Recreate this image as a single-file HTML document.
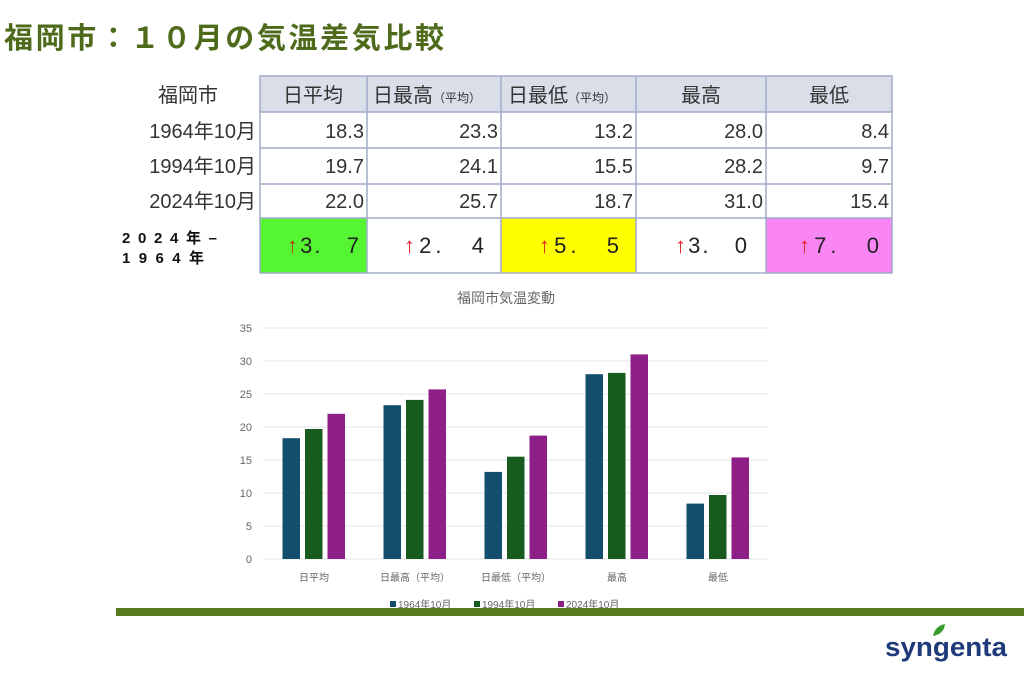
<!DOCTYPE html>
<html><head><meta charset="utf-8"><style>
body{margin:0;background:#fff;}
svg{display:block;font-family:"Liberation Sans","Noto Sans CJK JP",sans-serif;}
</style></head><body>
<svg width="1024" height="674" viewBox="0 0 1024 674" xmlns="http://www.w3.org/2000/svg">
<text x="4" y="48" font-size="29" font-weight="bold" fill="#4e6b1c" textLength="440" lengthAdjust="spacing">福岡市：１０月の気温差気比較</text>
<!-- table -->
<rect x="260" y="76" width="632" height="36" fill="#d9dee9"/>
<rect x="260" y="218" width="107" height="55" fill="#55f531"/>
<rect x="501" y="218" width="135" height="55" fill="#ffff00"/>
<rect x="766" y="218" width="126" height="55" fill="#f986f4"/>
<g stroke="#a2acc9" stroke-width="1.5" fill="none">
<rect x="260" y="76" width="632" height="197"/>
<line x1="260" y1="112" x2="892" y2="112"/><line x1="260" y1="148" x2="892" y2="148"/>
<line x1="260" y1="184" x2="892" y2="184"/><line x1="260" y1="218" x2="892" y2="218"/>
<line x1="367" y1="76" x2="367" y2="273"/><line x1="501" y1="76" x2="501" y2="273"/>
<line x1="636" y1="76" x2="636" y2="273"/><line x1="766" y1="76" x2="766" y2="273"/>
</g>
<g font-size="20" fill="#333">
<text x="188" y="102" text-anchor="middle">福岡市</text>
<text x="313" y="102" text-anchor="middle">日平均</text>
<text x="373" y="102">日最高<tspan font-size="12">（平均）</tspan></text>
<text x="508" y="102">日最低<tspan font-size="12">（平均）</tspan></text>
<text x="701" y="102" text-anchor="middle">最高</text>
<text x="829" y="102" text-anchor="middle">最低</text>
<text x="256" y="138" text-anchor="end">1964年10月</text>
<text x="256" y="173" text-anchor="end">1994年10月</text>
<text x="256" y="208" text-anchor="end">2024年10月</text>
<g text-anchor="end">
<text x="364" y="138">18.3</text><text x="498" y="138">23.3</text><text x="633" y="138">13.2</text><text x="763" y="138">28.0</text><text x="889" y="138">8.4</text>
<text x="364" y="173">19.7</text><text x="498" y="173">24.1</text><text x="633" y="173">15.5</text><text x="763" y="173">28.2</text><text x="889" y="173">9.7</text>
<text x="364" y="208">22.0</text><text x="498" y="208">25.7</text><text x="633" y="208">18.7</text><text x="763" y="208">31.0</text><text x="889" y="208">15.4</text>
</g>
</g>
<g font-size="22" fill="#222">
<text x="287" y="253" textLength="72" lengthAdjust="spacing"><tspan fill="#b53a0c">↑</tspan>3.　7</text>
<text x="404" y="253" textLength="80" lengthAdjust="spacing"><tspan fill="#e52020">↑</tspan>2.　4</text>
<text x="539" y="253" textLength="80" lengthAdjust="spacing"><tspan fill="#e52020">↑</tspan>5.　5</text>
<text x="675" y="253" textLength="72" lengthAdjust="spacing"><tspan fill="#e52020">↑</tspan>3.　0</text>
<text x="799" y="253" textLength="80" lengthAdjust="spacing"><tspan fill="#e52020">↑</tspan>7.　0</text>
</g>
<text x="122" y="243" font-size="15" font-weight="bold" fill="#111" textLength="95" lengthAdjust="spacing">2024年–</text>
<text x="122" y="263" font-size="15" font-weight="bold" fill="#111" textLength="82" lengthAdjust="spacing">1964年</text>
<!-- chart -->
<text x="506" y="303" text-anchor="middle" font-size="14" fill="#666">福岡市気温変動</text>
<g stroke="#e4e4e4" stroke-width="1">
<line x1="263" y1="328" x2="768" y2="328"/><line x1="263" y1="361" x2="768" y2="361"/>
<line x1="263" y1="394" x2="768" y2="394"/><line x1="263" y1="427" x2="768" y2="427"/>
<line x1="263" y1="460" x2="768" y2="460"/><line x1="263" y1="493" x2="768" y2="493"/>
<line x1="263" y1="526" x2="768" y2="526"/><line x1="263" y1="559" x2="768" y2="559"/>
</g>
<g font-size="11" fill="#666" text-anchor="end">
<text x="252" y="332">35</text><text x="252" y="365">30</text><text x="252" y="398">25</text><text x="252" y="431">20</text>
<text x="252" y="464">15</text><text x="252" y="497">10</text><text x="252" y="530">5</text><text x="252" y="563">0</text>
</g>
<g>
<rect x="282.5" y="438.2" width="17.5" height="120.8" fill="#134e6f"/>
<rect x="305" y="429" width="17.5" height="130" fill="#175b1f"/>
<rect x="327.5" y="413.8" width="17.5" height="145.2" fill="#8e1f87"/>
<rect x="383.5" y="405.2" width="17.5" height="153.8" fill="#134e6f"/>
<rect x="406" y="399.9" width="17.5" height="159.1" fill="#175b1f"/>
<rect x="428.5" y="389.4" width="17.5" height="169.6" fill="#8e1f87"/>
<rect x="484.5" y="471.9" width="17.5" height="87.1" fill="#134e6f"/>
<rect x="507" y="456.7" width="17.5" height="102.3" fill="#175b1f"/>
<rect x="529.5" y="435.6" width="17.5" height="123.4" fill="#8e1f87"/>
<rect x="585.5" y="374.2" width="17.5" height="184.8" fill="#134e6f"/>
<rect x="608" y="372.9" width="17.5" height="186.1" fill="#175b1f"/>
<rect x="630.5" y="354.4" width="17.5" height="204.6" fill="#8e1f87"/>
<rect x="686.5" y="503.6" width="17.5" height="55.4" fill="#134e6f"/>
<rect x="709" y="495" width="17.5" height="64" fill="#175b1f"/>
<rect x="731.5" y="457.4" width="17.5" height="101.6" fill="#8e1f87"/>
</g>
<g font-size="10" fill="#666" text-anchor="middle">
<text x="314" y="581">日平均</text><text x="415" y="581">日最高（平均）</text><text x="516" y="581">日最低（平均）</text>
<text x="617" y="581">最高</text><text x="718" y="581">最低</text>
</g>
<g font-size="10" fill="#666">
<rect x="390" y="601" width="6" height="6" fill="#134e6f"/><text x="398" y="608">1964年10月</text>
<rect x="474" y="601" width="6" height="6" fill="#175b1f"/><text x="482" y="608">1994年10月</text>
<rect x="558" y="601" width="6" height="6" fill="#8e1f87"/><text x="566" y="608">2024年10月</text>
</g>
<rect x="116" y="608" width="908" height="8" fill="#587a1c"/>
<!-- logo -->
<text x="885" y="656" font-size="27" font-weight="bold" fill="#1e3a7a" textLength="122" lengthAdjust="spacingAndGlyphs">syngenta</text>
<path d="M933 636 q2 -10 12 -12 q-1 10 -12 12z" fill="#3a9a2c"/>
</svg>
</body></html>
